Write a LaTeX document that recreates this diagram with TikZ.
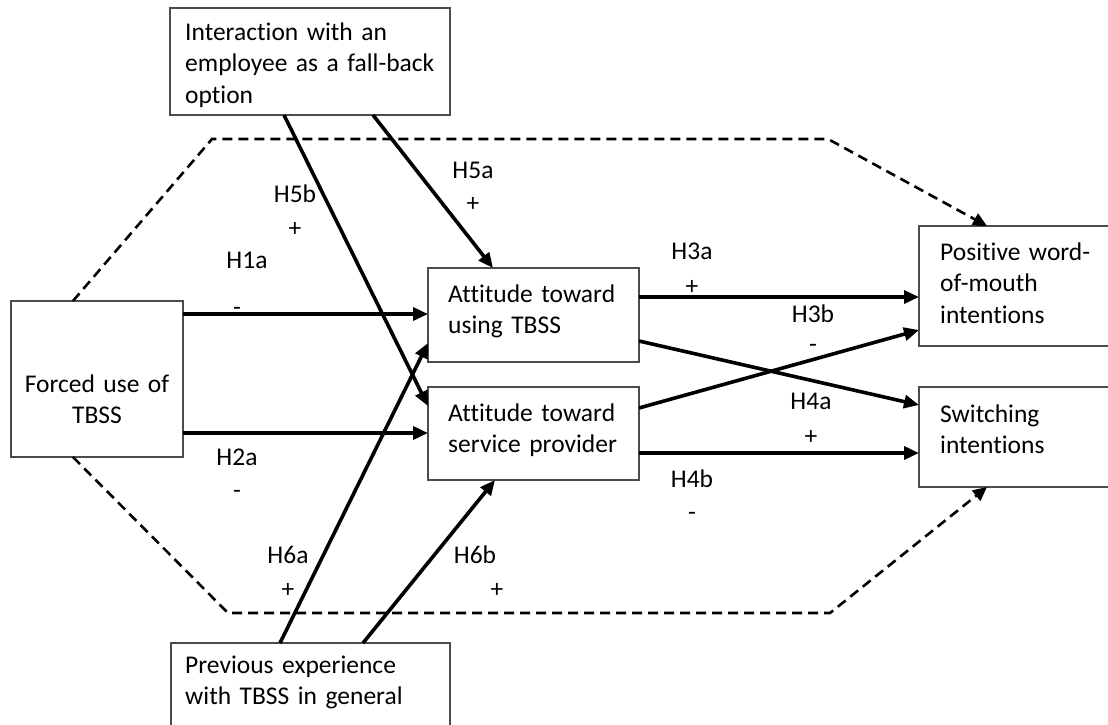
\documentclass[tikz,border=0pt]{standalone}
\usepackage{fontspec}
\setmainfont{Carlito}[Ligatures={NoCommon}]
\usetikzlibrary{arrows.meta,calc}
\begin{document}
\begin{tikzpicture}[x=1pt,y=-1pt,
  box/.style={draw=black!70, line width=1.3pt, fill=white, inner sep=0pt, outer sep=0pt, anchor=north west},
  txt/.style={font=\fontsize{25.5}{31.6}\selectfont, inner sep=0pt, align=left, anchor=base west, text width=#1},
  lbl/.style={font=\fontsize{25.5}{31.6}\selectfont, inner sep=0pt, anchor=base},
  link/.style={line width=3.6pt, -{Triangle[length=15pt,width=13pt]}},
  hyp/.style={line width=2.6pt, dash pattern=on 10pt off 6pt, -{Triangle[length=14pt,width=13pt]}}
]
\path[use as bounding box, clip] (0,0) rectangle (1108,724);

% boxes
\node[box, minimum width=280pt, minimum height=107pt] (emp) at (170,8) {};
\node[box, minimum width=172pt, minimum height=156pt] (forced) at (11,301) {};
\node[box, minimum width=211pt, minimum height=94pt] (atu) at (428,268) {};
\node[box, minimum width=211pt, minimum height=93pt] (atp) at (428,387) {};
\node[box, minimum width=220pt, minimum height=120pt] (wom) at (919,226) {};
\node[box, minimum width=220pt, minimum height=100pt] (sw) at (919,387) {};
\node[box, minimum width=279pt, minimum height=110pt] (prev) at (171,643) {};

% box texts
\node[txt=270pt] (empT) at (185,40) {Interaction with an\\employee as a fall-back\\option};
\node[txt=160pt, align=center, anchor=base] (forcedT) at (97,392) {Forced use of\\TBSS};
\node[txt=190pt] (atuT) at (448,302) {Attitude toward\\using TBSS};
\node[txt=190pt] (atpT) at (448,421) {Attitude toward\\service provider};
\node[txt=170pt] (womT) at (940,260) {Positive word-\\of-mouth\\intentions};
\node[txt=170pt] (swT) at (940,422) {Switching\\intentions};
\node[txt=260pt] (prevT) at (185,673) {Previous experience\\with TBSS in general};

% dashed control paths
\coordinate (c1) at (212,139);
\coordinate (c2) at (828,139);
\coordinate (c3) at (228,613);
\coordinate (c4) at (830,613);
\draw[hyp] ($(forced.north west)!0.36!(forced.north east)$) -- (c1) -- (c2) -- ($(wom.north west)+(68,0)$);
\draw[hyp] ($(forced.south west)!0.36!(forced.south east)$) -- (c3) -- (c4) -- ($(sw.south west)+(68,0)$);

% hypothesis arrows
\draw[link] ($(forced.north east)+(0,13)$) -- ($(atu.north west)+(0,46)$);
\draw[link] ($(forced.north east)+(0,132)$) -- ($(atp.north west)+(0,46)$);
\draw[link] ($(emp.south west)+(203,0)$) -- ($(atu.north west)+(65,0)$);
\draw[link] ($(emp.south west)+(114,0)$) -- ($(atp.north west)+(0,19)$);
\draw[link] ($(prev.north west)+(109,0)$) -- ($(atu.north west)+(0,75)$);
\draw[link] ($(prev.north west)+(192,0)$) -- ($(atp.south west)+(67,0)$);
\draw[link] ($(atu.north east)+(0,29)$) -- ($(wom.north west)+(0,71)$);
\draw[link] ($(atp.north east)+(0,21)$) -- ($(wom.north west)+(0,104)$);
\draw[link] ($(atu.north east)+(0,73)$) -- ($(sw.north west)+(0,18)$);
\draw[link] ($(atp.north east)+(0,66)$) -- ($(sw.north west)+(0,66)$);

% labels
\node[lbl] (h5b) at (295,202) {H5b};
\node[lbl] (s5b) at (295,236) {+};
\node[lbl] (h1a) at (247,268) {H1a};
\node[lbl] (s1a) at (237,315) {-};
\node[lbl] (h5a) at (473,178) {H5a};
\node[lbl] (s5a) at (473,211) {+};
\node[lbl] (h2a) at (237,465) {H2a};
\node[lbl] (s2a) at (237,498) {-};
\node[lbl] (h6a) at (288,563) {H6a};
\node[lbl] (s6a) at (288,597) {+};
\node[lbl] (h6b) at (475,563) {H6b};
\node[lbl] (s6b) at (497,597) {+};
\node[lbl] (h3a) at (692,259) {H3a};
\node[lbl] (s3a) at (692,294) {+};
\node[lbl] (h3b) at (813,322) {H3b};
\node[lbl] (s3b) at (813,352) {-};
\node[lbl] (h4a) at (811,409) {H4a};
\node[lbl] (s4a) at (811,444) {+};
\node[lbl] (h4b) at (692,487) {H4b};
\node[lbl] (s4b) at (692,520) {-};
\end{tikzpicture}
\end{document}
